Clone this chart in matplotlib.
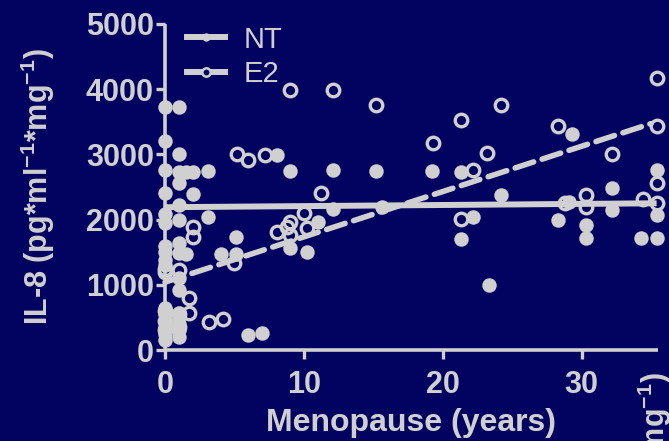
import matplotlib
matplotlib.use("Agg")
import matplotlib.pyplot as plt
from matplotlib.lines import Line2D
import numpy as np

# IL-8 release versus years since menopause, untreated (NT) and estradiol (E2)
nt_x = [0, 0, 0, 0, 0, 0, 0, 0, 0, 0, 0, 0, 0, 0, 0, 0,
        1, 1, 1, 1, 1, 1, 1, 1, 1, 1, 1, 1, 1, 1, 1,
        1.5, 1.5, 2, 2, 3.1, 3.1, 4, 5.1, 5.1, 6, 7, 8.1, 9, 9, 10.2, 11,
        12.1, 12.1, 15.2, 15.6, 19.2, 21.3, 21.3, 22.2, 23.3, 24.2, 28.3,
        29.3, 29.1, 30.3, 30.3, 32.2, 32.2, 34.3, 35.4, 35.4, 35.4]
nt_y = [3730, 3200, 2760, 2410, 2080, 1950, 1600, 1500, 1380, 1300, 650, 550, 450, 350, 250, 150,
        3730, 3000, 2730, 2560, 2220, 1990, 1640, 1490, 1100, 920, 570, 500, 400, 300, 200,
        2730, 1480, 2730, 2400, 2745, 2040, 1480, 1740, 1480, 230, 260, 2990, 2740, 1560, 1500, 1970,
        2760, 2170, 2745, 2200, 2745, 2730, 1700, 2040, 1000, 2380, 1990,
        3310, 2270, 1920, 1720, 2480, 2150, 1720, 2760, 2070, 1720]

e2_x = [0, 0, 0, 0, 0, 1, 1, 1, 1.7, 1.7, 2, 2, 3.2, 4.2, 5.2, 5, 6, 7.2,
        8.1, 8.8, 9, 9, 9, 10, 10.2, 11.2, 12.1, 15.2, 19.3, 21.3, 21.3,
        22.2, 23.2, 24.2, 28.3, 28.8, 30.3, 30.3, 32.2, 34.4, 35.4, 35.4, 35.4, 35.4]
e2_y = [1250, 1200, 600, 450, 300, 1230, 550, 350, 800, 570, 1890, 1740, 430, 475, 3000, 1330, 2910, 2990,
        1810, 1890, 3990, 1970, 1760, 2100, 1870, 2410, 3990, 3760, 3170, 3530, 2010,
        2760, 3020, 3760, 3440, 2250, 2380, 2200, 3000, 2320, 4170, 3440, 2560, 2250]

# linear fits (intercept, slope) and the x range they cover
nt_fit = (2190, 1.7)
e2_fit = (1040, 69.5)
nt_range = [0, 35.4]
e2_range = [0, 35.0]

x_ticks = [0, 10, 20, 30]
y_ticks = [0, 1000, 2000, 3000, 4000, 5000]

BG = "#020260"
FG = "#d0d0d0"

plt.rcParams["font.family"] = ["Liberation Sans", "DejaVu Sans"]
plt.rcParams["mathtext.fontset"] = "custom"
plt.rcParams["mathtext.rm"] = "Liberation Sans:bold"
plt.rcParams["mathtext.bf"] = "Liberation Sans:bold"
plt.rcParams["mathtext.default"] = "regular"

fig = plt.figure(figsize=(6.69, 4.41), dpi=100, facecolor=BG)
ax = fig.add_axes([165 / 669, 1 - 350 / 441, 493 / 669, 326 / 441], facecolor=BG)

xn = np.array(nt_range)
xe = np.array(e2_range)
ax.plot(xn, nt_fit[0] + nt_fit[1] * xn, color=FG, lw=4.3, solid_capstyle="butt",
        clip_on=False, zorder=2)
ax.plot(xe, e2_fit[0] + e2_fit[1] * xe, color=FG, lw=4.0, dashes=(3.5, 1.6),
        dash_capstyle="round", clip_on=False, zorder=2)

ax.plot(nt_x, nt_y, "o", ms=10.4, mfc=FG, mec="none", clip_on=False, zorder=3)
ax.plot(e2_x, e2_y, "o", ms=9, mfc="none", mec=FG, mew=2.4, clip_on=False, zorder=3)

ax.set_xlim(0, 35.5)
ax.set_ylim(0, 5000)
ax.set_xticks(x_ticks)
ax.set_yticks(y_ticks)

for side in ("top", "right"):
    ax.spines[side].set_visible(False)
for side in ("left", "bottom"):
    ax.spines[side].set_color(FG)
    ax.spines[side].set_linewidth(2.6)
    ax.spines[side].set_capstyle("butt")

ax.tick_params(axis="both", colors=FG, direction="out", length=6.5, width=2.4)
ax.tick_params(axis="y", pad=1.5)
ax.tick_params(axis="x", pad=8)
for lab in ax.get_xticklabels() + ax.get_yticklabels():
    lab.set_fontsize(22)
    lab.set_fontweight("bold")
    lab.set_color(FG)

ax.set_xlabel("Menopause (years)", fontsize=23, fontweight="bold", color=FG, labelpad=6)
ylabel = r"IL-8 (pg*ml$^{-1}$*mg$^{-1}$)"
ax.set_ylabel(ylabel, fontsize=22, fontweight="bold", color=FG, labelpad=21)

handles = [
    Line2D([], [], color=FG, lw=4.3, marker="o", ms=6, mfc=FG, mec="none"),
    Line2D([], [], color=FG, lw=4.3, marker="o", ms=6, mfc=BG, mec=FG, mew=1.8),
]
leg = ax.legend(handles, ["NT", "E2"], loc="upper left", bbox_to_anchor=(0.045, 0.995),
                frameon=False, fontsize=21, handlelength=1.3, handletextpad=0.65,
                labelspacing=0.22, borderpad=0, borderaxespad=0)
for t in leg.get_texts():
    t.set_color(FG)

# neighbouring panel's axis title, partly cut off at the right edge
fig.text(655 / 669, 1 - 372 / 441, ylabel, rotation=90, ha="center", va="top",
         fontsize=22, fontweight="bold", color=FG)

fig.savefig("out.png", dpi=100, facecolor=BG)
